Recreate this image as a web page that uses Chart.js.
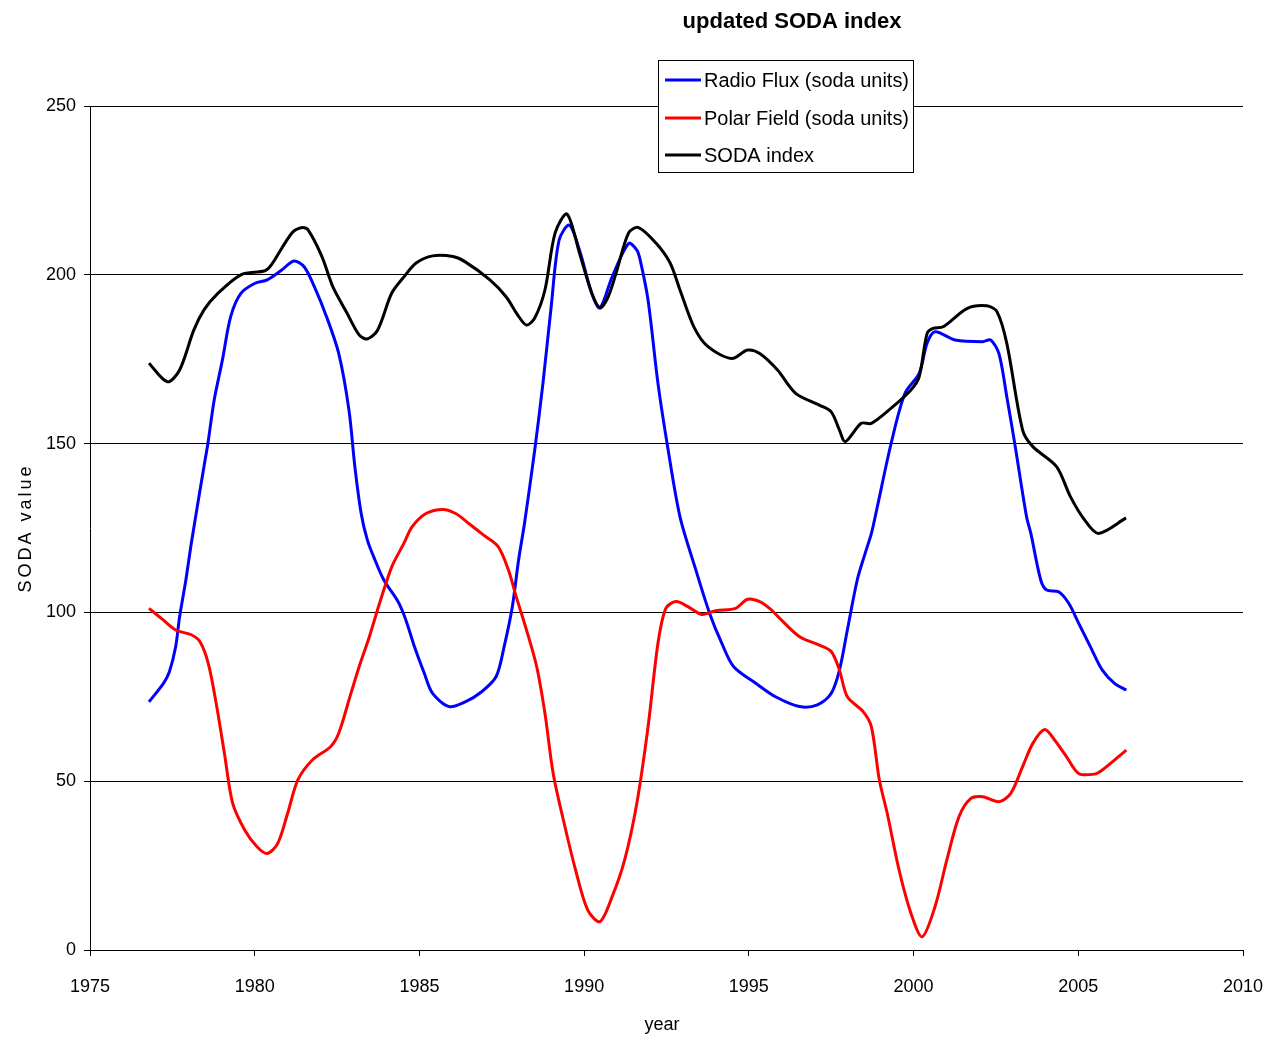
<!DOCTYPE html>
<html>
<head>
<meta charset="utf-8">
<title>updated SODA index</title>
<script src="https://cdn.jsdelivr.net/npm/chart.js@4.4.1/dist/chart.umd.min.js"></script>
<style>
  html, body { margin: 0; padding: 0; background: #fff; }
  #wrap { width: 1265px; height: 1037px; }
</style>
</head>
<body>
<div id="wrap"><canvas id="sodaChart" width="1265" height="1037"></canvas></div>
<script>
// values (year, value)
const radioYears = [1976.79, 1977.23, 1977.41, 1977.6, 1977.72, 1977.91, 1978.09, 1978.46, 1978.58, 1978.77, 1979.02, 1979.27, 1979.58, 1980.01, 1980.38, 1980.82, 1981.19, 1981.5, 1981.81, 1982.18, 1982.55, 1982.86, 1983.04, 1983.23, 1983.42, 1983.61, 1983.92, 1984.35, 1984.59, 1984.85, 1985.15, 1985.4, 1985.9, 1986.39, 1986.89, 1987.33, 1987.57, 1987.82, 1988.01, 1988.19, 1988.5, 1988.75, 1989.0, 1989.24, 1989.55, 1989.86, 1990.23, 1990.48, 1990.85, 1991.35, 1991.6, 1991.7, 1991.94, 1992.24, 1992.55, 1992.91, 1993.39, 1993.81, 1994.18, 1994.54, 1995.21, 1995.81, 1996.54, 1997.08, 1997.5, 1997.75, 1997.99, 1998.29, 1998.53, 1998.72, 1998.9, 1999.32, 1999.74, 2000.17, 2000.41, 2000.65, 2001.26, 2002.1, 2002.34, 2002.59, 2002.83, 2003.07, 2003.43, 2003.56, 2003.86, 2004.04, 2004.4, 2004.71, 2005.01, 2005.37, 2005.73, 2006.1, 2006.46];
const radioFlux = [73.5, 79, 82.4, 89.8, 98.7, 109.6, 121.4, 143.2, 150.1, 162.9, 174.8, 187.6, 194.5, 197.5, 198.5, 201.4, 204.1, 202.4, 196.5, 187.6, 176.7, 160, 143.2, 129.4, 121.4, 116.5, 109.6, 103.2, 97.7, 89.8, 81.9, 76, 72.1, 73.5, 76.5, 81, 89.8, 101.7, 115.5, 126.4, 148.1, 167.9, 190.6, 210.3, 214.7, 207.3, 194.5, 190.2, 199.4, 209.3, 207.3, 204.4, 192.5, 167.9, 148.1, 128.3, 112.6, 99.7, 90.8, 83.9, 79, 75, 72.1, 72.6, 76, 82.9, 94.8, 109.6, 117.5, 123.4, 131.3, 150.1, 164.9, 170.8, 179.7, 183.1, 180.7, 180.2, 180.7, 176.7, 163.9, 150.1, 128.3, 123.4, 109.6, 106.6, 106.1, 102.7, 96.8, 89.8, 82.9, 79, 77];

const polarYears = [1976.79, 1977.23, 1977.6, 1978.09, 1978.34, 1978.59, 1978.83, 1979.08, 1979.33, 1979.7, 1980.07, 1980.38, 1980.7, 1981.0, 1981.31, 1981.75, 1982.3, 1982.55, 1982.92, 1983.17, 1983.48, 1983.79, 1984.16, 1984.53, 1984.78, 1985.2, 1985.71, 1986.1, 1986.52, 1986.95, 1987.39, 1987.7, 1987.94, 1988.25, 1988.56, 1988.81, 1989.06, 1989.37, 1989.74, 1990.11, 1990.48, 1990.85, 1991.23, 1991.6, 1991.94, 1992.24, 1992.48, 1992.79, 1993.15, 1993.57, 1994.0, 1994.6, 1994.96, 1995.33, 1995.69, 1995.93, 1996.54, 1997.14, 1997.5, 1997.75, 1997.99, 1998.47, 1998.72, 1998.96, 1999.2, 1999.56, 1999.92, 2000.26, 2000.65, 2001.01, 2001.38, 2001.74, 2002.1, 2002.59, 2002.95, 2003.31, 2003.62, 2003.98, 2004.28, 2004.64, 2005.01, 2005.49, 2005.73, 2006.46];
const polarField = [101.2, 97.7, 94.8, 93.3, 91.3, 84.9, 73.1, 58.3, 43.5, 35.5, 30.6, 28.6, 31.6, 40.5, 50.4, 56.3, 60.2, 64.2, 76, 83.9, 92.8, 102.7, 113.5, 120.5, 125.4, 129.3, 130.5, 129.3, 126.2, 122.9, 119.5, 112.6, 104.6, 94.8, 83.9, 70.1, 52.3, 38.5, 23.7, 11.8, 8.4, 15.8, 26.7, 43.5, 66.1, 90.8, 101.2, 103.2, 101.7, 99.4, 100.5, 101.2, 103.9, 103.2, 100.7, 98.3, 92.8, 90.3, 88.4, 82.9, 75, 70.6, 66.1, 50.4, 40.5, 23.7, 10.9, 3.9, 12.8, 26.7, 39.5, 44.9, 45.4, 43.9, 46.4, 54.3, 61.2, 65.3, 62.2, 57.3, 52.3, 52.1, 53.3, 59.2];

const sodaYears = [1976.79, 1977.35, 1977.72, 1978.15, 1978.46, 1978.83, 1979.58, 1980.31, 1980.51, 1981.13, 1981.44, 1981.62, 1982.04, 1982.37, 1982.8, 1983.17, 1983.41, 1983.73, 1984.16, 1984.53, 1984.9, 1985.4, 1986.02, 1986.38, 1987.14, 1987.63, 1987.99, 1988.25, 1988.5, 1988.81, 1989.12, 1989.48, 1989.86, 1990.23, 1990.48, 1990.73, 1990.97, 1991.35, 1991.65, 1992.18, 1992.61, 1992.91, 1993.33, 1993.76, 1994.48, 1994.96, 1995.33, 1995.87, 1996.42, 1997.14, 1997.5, 1997.75, 1997.93, 1998.41, 1998.72, 1999.32, 1999.92, 2000.17, 2000.41, 2000.59, 2000.9, 2001.62, 2002.22, 2002.53, 2002.83, 2003.31, 2003.62, 2004.34, 2004.76, 2005.19, 2005.61, 2006.45];
const sodaIndex = [173.8, 168.3, 171.8, 183.6, 189.6, 194, 200, 201.2, 203, 212.4, 214, 213.3, 205.4, 196.5, 188.7, 182.2, 181, 183.6, 194.6, 199.4, 203.5, 205.6, 205.4, 203.9, 198.5, 193.5, 188, 185.1, 187.2, 195.5, 212.4, 218, 206.4, 194.6, 190.2, 193.5, 200.5, 212.4, 214, 209.4, 203.5, 195.5, 184.6, 178.7, 175.2, 177.7, 176.7, 171.8, 164.9, 161.4, 159.4, 154, 150.6, 156, 156, 160.5, 165.9, 169.8, 182.6, 184.1, 184.6, 190, 190.8, 189.1, 179.7, 154, 149.1, 143.2, 134.3, 127.4, 123.4, 128];

const seriesNames = ['Radio Flux (soda units)', 'Polar Field (soda units)', 'SODA index'];
const seriesColors = ['#0000ff', '#ff0000', '#000000'];
const chartTitle = 'updated SODA index';
const xTitle = 'year';
const yTitle = 'SODA value';

function toPoints(xs, ys) {
    return xs.map((x, i) => ({ x: x, y: ys[i] }));
}

const FONT = '"Liberation Sans", Arial, sans-serif';

// title, legend box and axis titles drawn where the reference has them
const decorations = {
    id: 'decorations',
    afterDraw(chart) {
        const ctx = chart.ctx;
        ctx.save();
        ctx.fillStyle = '#000';

        // chart title
        ctx.font = 'bold 22px ' + FONT;
        ctx.textAlign = 'center';
        ctx.textBaseline = 'middle';
        ctx.fillText(chartTitle, 792, 22);

        // x axis title
        ctx.font = '18px ' + FONT;
        ctx.fillText(xTitle, 662, 1025);

        // y axis title (rotated, spaced letters)
        ctx.save();
        ctx.translate(26, 528);
        ctx.rotate(-Math.PI / 2);
        ctx.letterSpacing = '3px';
        ctx.fillText(yTitle, 0, 0);
        ctx.restore();

        // legend
        ctx.fillStyle = '#fff';
        ctx.fillRect(658.5, 60.5, 255, 112);
        ctx.strokeStyle = '#000';
        ctx.lineWidth = 1;
        ctx.strokeRect(658.5, 60.5, 255, 112);
        const rows = [80, 118, 155];
        ctx.font = '20px ' + FONT;
        ctx.textAlign = 'left';
        chart.data.datasets.forEach((ds, i) => {
            ctx.strokeStyle = ds.borderColor;
            ctx.lineWidth = 3;
            ctx.beginPath();
            ctx.moveTo(665, rows[i]);
            ctx.lineTo(701, rows[i]);
            ctx.stroke();
            ctx.fillStyle = '#000';
            ctx.fillText(ds.label, 704, rows[i] + 1, 205);
        });
        ctx.restore();
    }
};

const ctx = document.getElementById('sodaChart').getContext('2d');
new Chart(ctx, {
    type: 'line',
    data: {
        datasets: [
            { label: seriesNames[0], data: toPoints(radioYears, radioFlux), borderColor: seriesColors[0], order: 2 },
            { label: seriesNames[1], data: toPoints(polarYears, polarField), borderColor: seriesColors[1], order: 1 },
            { label: seriesNames[2], data: toPoints(sodaYears, sodaIndex), borderColor: seriesColors[2], order: 0 }
        ]
    },
    options: {
        responsive: false,
        animation: false,
        events: [],
        layout: { padding: { left: 0, top: 106, right: 22, bottom: 0 } },
        elements: {
            point: { radius: 0 },
            line: { borderWidth: 3, tension: 0.3, fill: false }
        },
        plugins: {
            legend: { display: false },
            title: { display: false },
            tooltip: { enabled: false }
        },
        scales: {
            x: {
                type: 'linear',
                min: 1975,
                max: 2010,
                afterFit: (scale) => {
                    scale.height = 87;
                    scale.paddingLeft = 0;
                    scale.paddingRight = 0;
                },
                ticks: {
                    stepSize: 5,
                    padding: 20,
                    color: '#000',
                    font: { family: FONT, size: 18 },
                    callback: (v) => String(v)
                },
                grid: { drawOnChartArea: false, color: '#000', tickLength: 6 },
                border: { color: '#000', width: 1 }
            },
            y: {
                min: 0,
                max: 250,
                afterFit: (scale) => {
                    scale.width = 90;
                    scale.paddingTop = 0;
                    scale.paddingBottom = 0;
                },
                ticks: {
                    stepSize: 50,
                    padding: 8,
                    color: '#000',
                    font: { family: FONT, size: 18 }
                },
                grid: { color: '#000', tickLength: 6 },
                border: { color: '#000', width: 1 }
            }
        }
    },
    plugins: [decorations]
});
</script>
</body>
</html>
